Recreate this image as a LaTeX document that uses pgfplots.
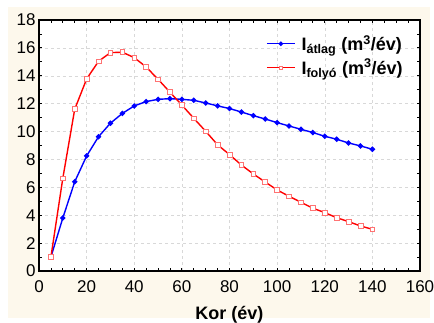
\documentclass[border=0pt]{standalone}
\usepackage{fontspec}
\setmainfont{Liberation Sans}
\usepackage{pgfplots}
\pgfplotsset{compat=1.18}
\definecolor{cream}{HTML}{FDF8EC}
\definecolor{gridgray}{HTML}{D8D8D8}

\pgfplotstableread{
x y
5 1.0
10 3.8
15 6.4
20 8.25
25 9.63
30 10.6
35 11.3
40 11.84
45 12.15
50 12.31
55 12.36
60 12.31
65 12.24
70 12.05
75 11.84
80 11.65
85 11.4
90 11.14
95 10.9
100 10.64
105 10.4
110 10.16
115 9.93
120 9.66
125 9.45
130 9.18
135 8.97
140 8.73
}\atlag

\pgfplotstableread{
x y
5 1.0
10 6.65
15 11.6
20 13.77
25 15.04
30 15.66
35 15.69
40 15.3
45 14.63
50 13.75
55 12.82
60 11.9
65 10.95
70 10.02
75 9.05
80 8.35
85 7.6
90 6.96
95 6.38
100 5.81
105 5.36
110 4.93
115 4.5
120 4.19
125 3.82
130 3.54
135 3.23
140 2.99
}\folyo

\begin{document}
\begin{tikzpicture}
  \fill[cream] (-31pt,-47pt) rectangle (391pt,264pt);
  \begin{axis}[
    scale only axis,
    width=381pt, height=251pt,
    xmin=0, xmax=160, ymin=0, ymax=18,
    xtick={0,20,...,160}, ytick={0,2,...,18},
    minor x tick num=3, minor y tick num=1,
    tick align=inside,
    major tick length=3pt, minor tick length=3pt,
    tick style={black, line width=0.8pt},
    axis line style={line width=1.4pt},
    axis background/.style={fill=white},
    xmajorgrids, ymajorgrids,
    major grid style={gridgray, dashed, line width=0.5pt},
    ticklabel style={font=\fontsize{17}{17}\selectfont},
    xticklabel style={anchor=base, yshift=-22pt},
    /pgf/number format/assume math mode=true,
    xlabel={\textbf{Kor (év)}},
    xlabel style={font=\fontsize{18}{18}\selectfont,
      at={(axis description cs:0.5,0)}, anchor=base, yshift=-49pt},
    legend style={draw=none, fill=none, at={(0.955,0.955)}, anchor=north east,
      xshift=5pt, font=\fontsize{18}{18}\selectfont, row sep=3pt,
      /tikz/every even column/.append style={column sep=2pt},
      /tikz/every odd column/.append style={column sep=4pt}},
    legend cell align=left,
  ]
    \addplot[blue, line width=1.4pt, mark=*, mark size=1.9pt,
      legend image code/.code={
        \draw[line width=1.4pt] (0pt,0pt) -- (28pt,0pt);
        \fill[blue] (14pt,0pt) circle (1.5pt);}] table {\atlag};
    \addlegendentry{\textbf{I\textsubscript{átlag} (m\textsuperscript{3}/év)}}
    \addplot[red, line width=1.4pt, mark=square*, mark size=2.4pt,
      mark options={fill=white, draw=red!55, line width=0.7pt},
      legend image code/.code={
        \draw[red, line width=1.4pt] (0pt,0pt) -- (28pt,0pt);
        \draw[red!55, fill=white, line width=0.6pt] (12.5pt,-1.5pt) rectangle (15.5pt,1.5pt);}] table {\folyo};
    \addlegendentry{\textbf{I\textsubscript{folyó} (m\textsuperscript{3}/év)}}
  \end{axis}
  \pgfresetboundingbox
  \useasboundingbox (-39pt,-52pt) rectangle (395pt,271pt);
\end{tikzpicture}
\end{document}
